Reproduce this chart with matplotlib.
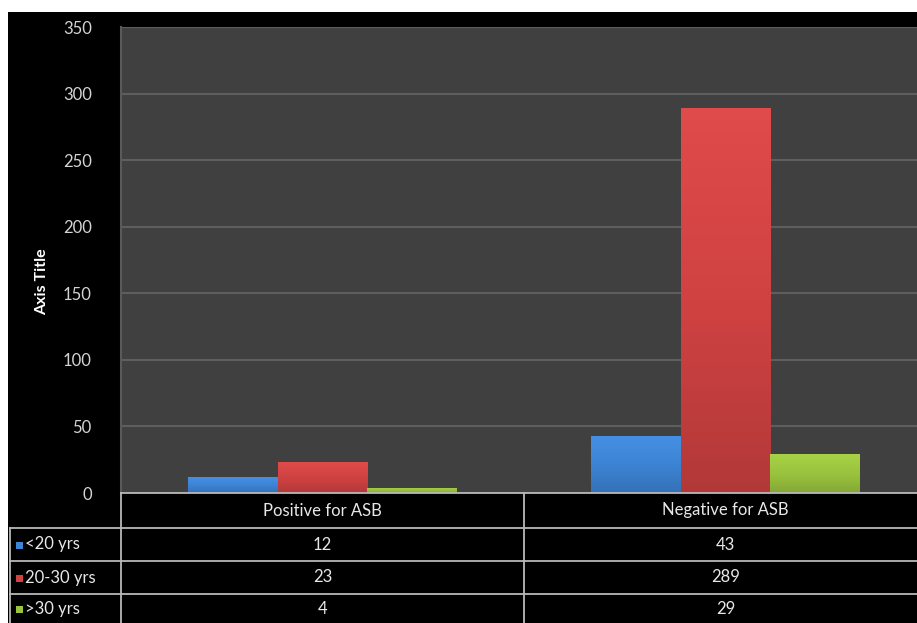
import numpy as np
import matplotlib
matplotlib.use("Agg")
import matplotlib.pyplot as plt
from matplotlib.patches import Rectangle
from matplotlib.colors import LinearSegmentedColormap, to_rgb
import matplotlib.transforms as mtransforms

categories = ["Positive for ASB", "Negative for ASB"]
series_names = ["<20 yrs", "20-30 yrs", ">30 yrs"]
under20 = [12, 43]
from20to30 = [23, 289]
over30 = [4, 29]
series_values = [under20, from20to30, over30]
colors = ["#3d84d4", "#d04242", "#9ac33e"]
yticks = [0, 50, 100, 150, 200, 250, 300, 350]

plt.rcParams['font.family'] = ['Lato', 'DejaVu Sans']

W, H = 917, 623
fig = plt.figure(figsize=(W / 100, H / 100), dpi=100, facecolor="white")

# black chart background
fig.patches.append(Rectangle((8 / W, 0), (W - 8) / W, (H - 12) / H,
                             transform=fig.transFigure, facecolor="black",
                             edgecolor="none", zorder=-5))

ax_l, ax_r, ax_t, ax_b = 121, 927, 27, 493
ax = fig.add_axes([ax_l / W, (H - ax_b) / H, (ax_r - ax_l) / W, (ax_b - ax_t) / H])
ax.set_facecolor("#404040")
ax.set_yticks(yticks)
ax.set_yticklabels([str(v) for v in yticks], color="#d4d4d4", fontsize=12)
ax.tick_params(axis="y", length=0, pad=21)
ax.set_xticks([])
ax.grid(axis="y", color="#5e5e5e", linewidth=1.5)
ax.set_axisbelow(True)
for s in ax.spines.values():
    s.set_visible(False)
ax.spines["left"].set_visible(True)
ax.spines["left"].set_color("#5a5a5a")
ax.spines["left"].set_linewidth(1.5)

x = np.arange(len(categories))
bw = 0.222
for i, (vals, c) in enumerate(zip(series_values, colors)):
    bars = ax.bar(x + (i - 1) * bw, vals, width=bw, color=c, zorder=3)
    base = np.array(to_rgb(c))
    cmap = LinearSegmentedColormap.from_list(
        "g", [np.clip(base * 0.86, 0, 1), base, np.clip(base * 1.05 + 0.02, 0, 1)])
    for p in bars.patches:
        bx, by = p.get_x(), p.get_y()
        bwid, bh = p.get_width(), p.get_height()
        grad = np.linspace(0, 1, 64).reshape(-1, 1)
        im = ax.imshow(grad, cmap=cmap, origin="lower", aspect="auto",
                       extent=[bx, bx + bwid, by, by + bh], zorder=3.5)
        im.set_clip_path(p)
ax.set_xlim(-0.5, len(categories) - 0.5)
ax.set_ylim(0, 350)

# axis title
fig.text(42 / W, (H - 282) / H, "Axis Title", rotation=90, color="white",
         fontsize=11.5, fontweight="bold", ha="center", va="center")

# data table
line_c = "#b8b8b8"
lw = 1.3
header_y, row_edges = 493, [528, 561, 594]
for xv, y0 in [(ax_l, header_y), (524, header_y), (10, 528)]:
    fig.add_artist(plt.Line2D([xv / W, xv / W], [(H - y0) / H, 0],
                              transform=fig.transFigure, color=line_c, lw=lw))
fig.add_artist(plt.Line2D([ax_l / W, 1], [(H - header_y) / H] * 2,
                          transform=fig.transFigure, color=line_c, lw=lw))
for yv in row_edges:
    fig.add_artist(plt.Line2D([10 / W, 1], [(H - yv) / H] * 2,
                              transform=fig.transFigure, color=line_c, lw=lw))

blend = mtransforms.blended_transform_factory(ax.transData, fig.transFigure)
row_centers = [510.5, 544.5, 577.5, 609]
for j, cat in enumerate(categories):
    fig.text(x[j], (H - row_centers[0]) / H, cat, transform=blend, color="#e8e8e8",
             fontsize=12, ha="center", va="center")
for i, (name, vals, c) in enumerate(zip(series_names, series_values, colors)):
    yc = row_centers[i + 1]
    fig.patches.append(Rectangle((16 / W, (H - yc - 4) / H), 7 / W, 7 / H,
                                 transform=fig.transFigure, facecolor=c,
                                 edgecolor="none"))
    fig.text(25 / W, (H - yc) / H, name, color="#e8e8e8", fontsize=12,
             ha="left", va="center")
    for j, v in enumerate(vals):
        fig.text(x[j], (H - yc) / H, str(v), transform=blend, color="#e8e8e8",
                 fontsize=12, ha="center", va="center")

fig.savefig("out.png", dpi=100, facecolor="white")
